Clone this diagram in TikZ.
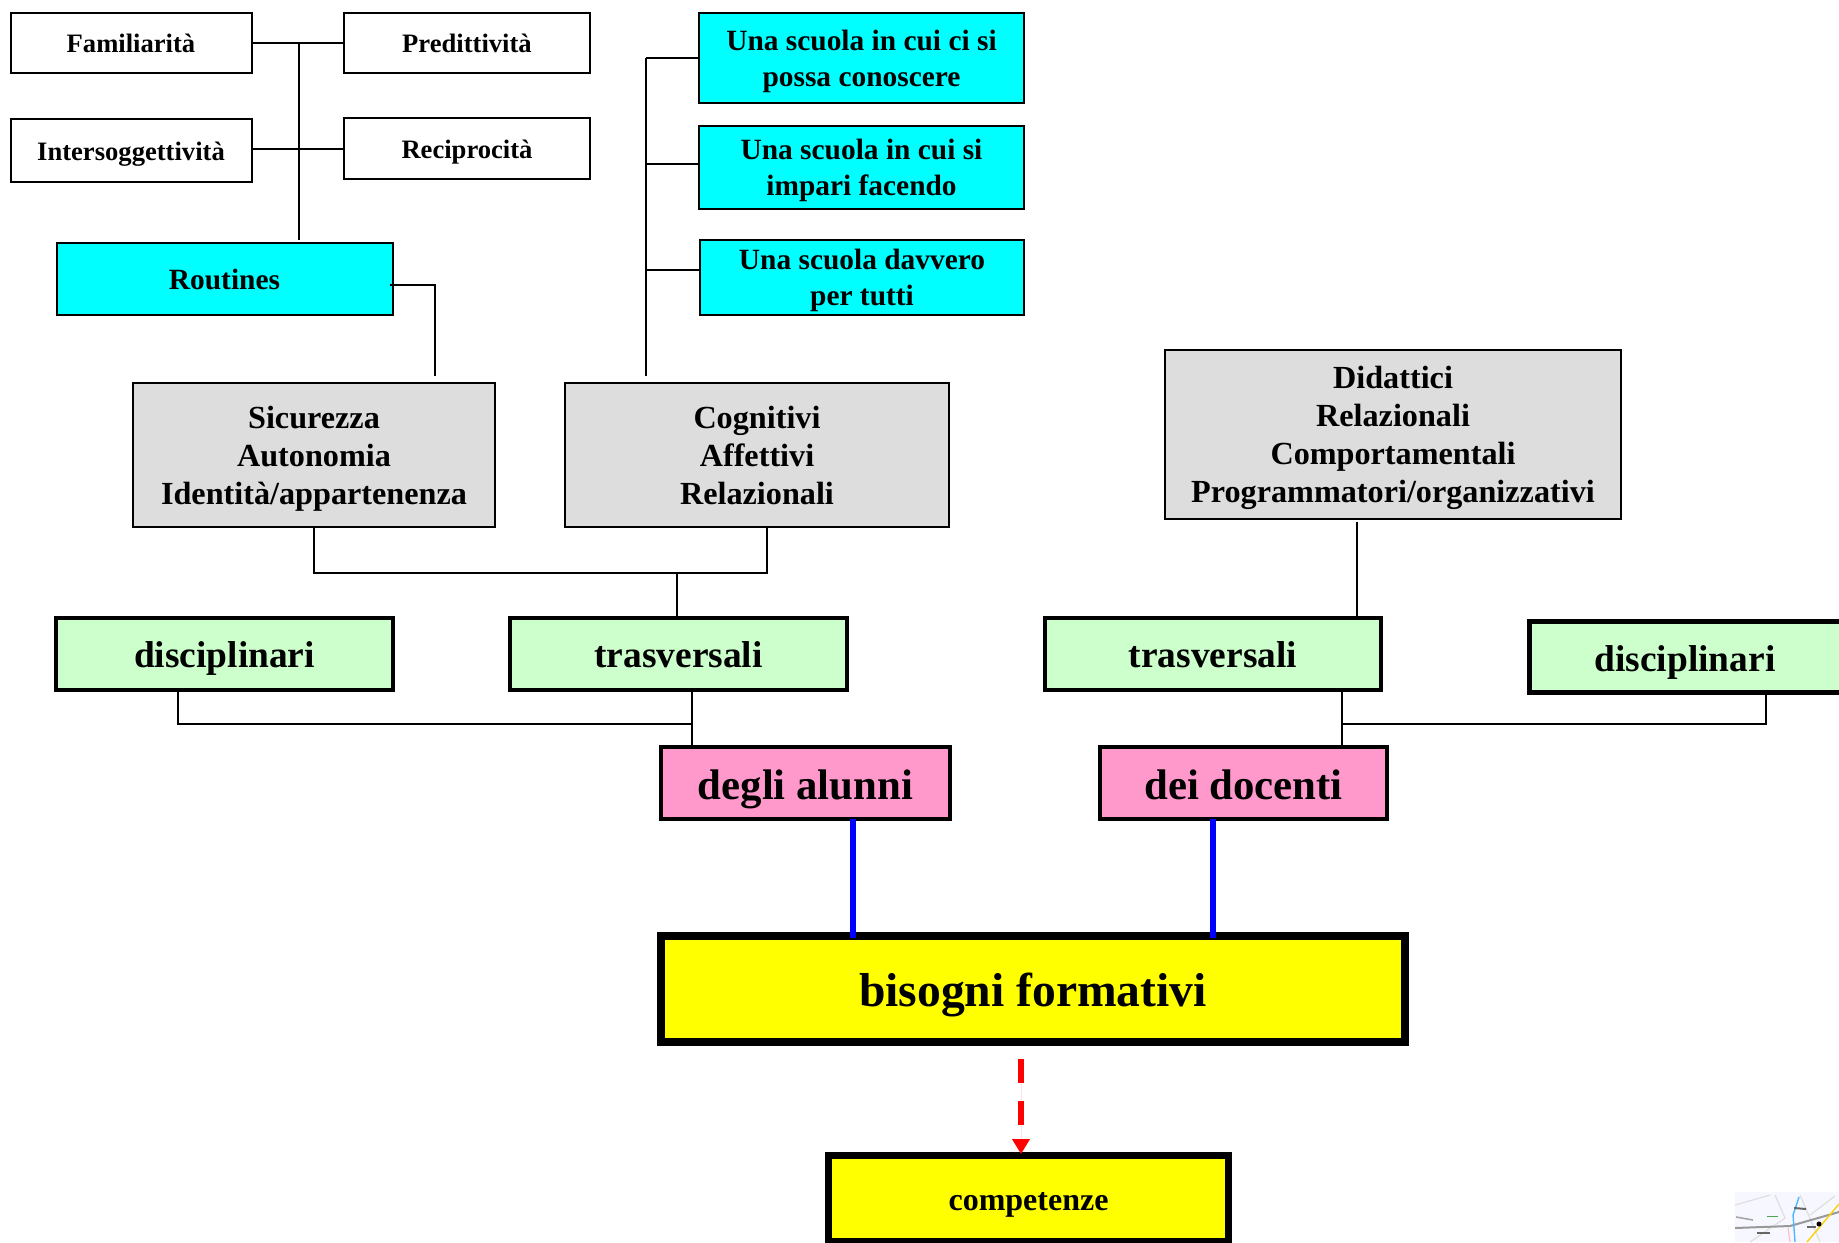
\documentclass[tikz,border=0pt]{standalone}
\usepackage{fontspec}
\setmainfont{Liberation Serif}
\usetikzlibrary{arrows.meta}

\definecolor{ciano}{HTML}{00FFFF}
\definecolor{grigio}{HTML}{DDDDDD}
\definecolor{verde}{HTML}{CCFFCC}
\definecolor{rosa}{HTML}{FF99CC}
\definecolor{giallo}{HTML}{FFFF00}

\tikzset{
	box/.style={draw=black, line width=1pt, inner sep=0pt, outer sep=0pt, align=center, font=\bfseries},
	piccolo/.style={box, fill=white, font=\fontsize{13.3}{16}\bfseries\selectfont},
	azzurro/.style={box, fill=ciano, font=\fontsize{14.7}{18}\bfseries\selectfont},
	grigiobox/.style={box, fill=grigio, font=\fontsize{16.1}{19}\bfseries\selectfont},
	verdebox/.style={box, fill=verde, line width=1.9pt, font=\fontsize{18.7}{22}\bfseries\selectfont},
	rosabox/.style={box, fill=rosa, line width=1.9pt, font=\fontsize{21.4}{25}\bfseries\selectfont},
	giallobox/.style={box, fill=giallo, line width=4pt},
	riga/.style={text height=2*#1 pt, text depth=0pt},
	linea/.style={draw=black, line width=1pt},
	blu/.style={draw=blue, line width=3.1pt},
}

\begin{document}
\begin{tikzpicture}[x=.5pt, y=-.5pt]
	\useasboundingbox (0,0) rectangle (1839,1242);

	% top left
	\node[piccolo, riga=4.7, minimum width=120.5pt, minimum height=30pt] (fam) at (131,43) {Familiarità};
	\node[piccolo, riga=4.7, minimum width=123pt, minimum height=30pt] (pred) at (467,43) {Predittività};
	\node[piccolo, riga=4.9, minimum width=120.5pt, minimum height=31.5pt] (inter) at (131,150.5) {Intersoggettività};
	\node[piccolo, riga=4.85, minimum width=123pt, minimum height=30.5pt] (recip) at (467,148.5) {Reciprocità};
	\node[azzurro, riga=5.4, minimum width=168pt, minimum height=36pt] (routines) at (224.5,279) {Routines};

	% scuola
	\node[azzurro, text depth=-1.7pt, minimum width=162.5pt, minimum height=45pt] (una) at (861.5,58) {Una scuola in cui ci si\\possa conoscere};
	\node[azzurro, text depth=-1.7pt, minimum width=162.5pt, minimum height=41.5pt] (impari) at (861.5,167.5) {Una scuola in cui si\\impari facendo};
	\node[azzurro, text depth=-2.2pt, minimum width=162pt, minimum height=37.5pt] (tutti) at (862,277) {Una scuola davvero\\per tutti};

	% grigi
	\node[grigiobox, text depth=-.2pt, minimum width=181pt, minimum height=72pt] (sicurezza) at (314,455) {Sicurezza\\Autonomia\\Identità/appartenenza};
	\node[grigiobox, text depth=-1pt, minimum width=192pt, minimum height=72pt] (cognitivi) at (757,455) {Cognitivi\\Affettivi\\Relazionali};
	\node[grigiobox, text depth=-1.9pt, minimum width=228pt, minimum height=84.5pt] (didattici) at (1393,434) {Didattici\\Relazionali\\Comportamentali\\Programmatori/organizzativi};

	% verdi
	\node[verdebox, riga=6.8, minimum width=168.5pt, minimum height=36pt] (disca) at (224.5,654) {disciplinari};
	\node[verdebox, riga=6.8, minimum width=168.5pt, minimum height=36pt] (trasa) at (678.5,654) {trasversali};
	\node[verdebox, riga=6.8, minimum width=168pt, minimum height=36pt] (trasd) at (1213,654) {trasversali};
	\node[verdebox, riga=7.1, line width=2.5pt, minimum width=156pt, minimum height=35.5pt] (discd) at (1685,657) {disciplinari};

	% rosa
	\node[rosabox, riga=8.2, minimum width=144.5pt, minimum height=36pt] (alunni) at (805.5,783) {degli alunni};
	\node[rosabox, riga=8.2, minimum width=143.5pt, minimum height=36pt] (docenti) at (1243.5,783) {dei docenti};

	% gialli
	\node[giallobox, riga=8.5, minimum width=372pt, minimum height=53pt, font=\fontsize{23.8}{28}\bfseries\selectfont] (bisogni) at (1033,989) {bisogni formativi};
	\node[giallobox, riga=6.1, line width=3.5pt, minimum width=200pt, minimum height=43pt, font=\fontsize{16}{19}\bfseries\selectfont] (competenze) at (1028.5,1198) {competenze};

	% punti liberi
	\coordinate (spinatop) at (298.5,43);
	\coordinate (spinabot) at (298.5,240);
	\coordinate (routa) at (389.5,284.5);
	\coordinate (routb) at (435,284.5);
	\coordinate (routc) at (435,376);
	\coordinate (scuolatop) at (646,58);
	\coordinate (scuolabot) at (646,376);
	\coordinate (scuolab) at (646,164);
	\coordinate (scuolac) at (646,270);
	\coordinate (sicb) at (314,572.5);
	\coordinate (cogb) at (767,572.5);
	\coordinate (trasb) at (677,572.5);
	\coordinate (didb) at (1357,522);
	\coordinate (didc) at (1357,617);
	\coordinate (discb) at (178,723.5);
	\coordinate (alb) at (692,723.5);
	\coordinate (doc) at (1342,723.5);
	\coordinate (discc) at (1766,723.5);
	\coordinate (bluea) at (853,938);
	\coordinate (blued) at (1213,938);
	\coordinate (freccia) at (1021,1059);
	\coordinate (frecciab) at (1021,1154);

	% connettori
	\draw[linea] (fam.east)--(pred.west);
	\draw[linea] (inter.east|-recip.west)--(recip.west);
	\draw[linea] (spinatop)--(spinabot);
	\draw[linea] (routa)--(routb)--(routc);
	\draw[linea] (scuolatop)--(una.west);
	\draw[linea] (scuolab)--(scuolab-|impari.west);
	\draw[linea] (scuolac)--(scuolac-|tutti.west);
	\draw[linea] (scuolatop)--(scuolabot);
	\draw[linea] (sicurezza.south)--(sicb)--(cogb)--(cogb|-cognitivi.south);
	\draw[linea] (trasb)--(trasb|-trasa.north);
	\draw[linea] (didb)--(didc);
	\draw[linea] (discb|-disca.south)--(discb)--(alb);
	\draw[linea] (alb|-trasa.south)--(alb|-alunni.north);
	\draw[linea] (doc|-trasd.south)--(doc|-docenti.north);
	\draw[linea] (doc)--(discc)--(discc|-discd.south);
	\draw[blu] (bluea|-alunni.south)--(bluea);
	\draw[blu] (blued|-docenti.south)--(blued);
	\draw[draw=red, fill=red, line width=2.8pt, dash pattern=on 12pt off 9pt, -{Triangle[length=7.5pt,width=8.5pt,sep=0pt]}] (freccia)--(frecciab);

	% cartina
	\fill[blue!3] (1735,1192) rectangle (1839,1242);
	\draw[gray!25, line width=.6pt] (1735,1205)--(1770,1195) (1750,1242)--(1785,1218)--(1775,1195) (1800,1195)--(1820,1242) (1835,1196)--(1810,1215);
	\draw[gray!80, line width=1pt] (1735,1228)--(1790,1226)--(1839,1212);
	\draw[blue!40!cyan!70, line width=.7pt] (1799,1197)--(1793,1215)--(1795,1242);
	\draw[yellow!70!orange, line width=.7pt] (1807,1242)--(1839,1204);
	\draw[green!50!black!70, line width=.5pt] (1767,1216)--(1778,1216);
	\draw[pink, line width=.6pt] (1788,1228)--(1790,1242);
	\draw[blue!50!yellow!70, line width=.8pt] (1736,1217)--(1753,1220);
	\fill[black] (1819,1224) circle (2.5);
	\fill[black!60] (1794,1207)--(1806,1208)--(1806,1210)--(1794,1209)--cycle;
	\fill[black!60] (1807,1226)--(1816,1226)--(1816,1228)--(1807,1228)--cycle;
	\fill[black!60] (1757,1232)--(1770,1232)--(1770,1234)--(1757,1234)--cycle;
\end{tikzpicture}
\end{document}
